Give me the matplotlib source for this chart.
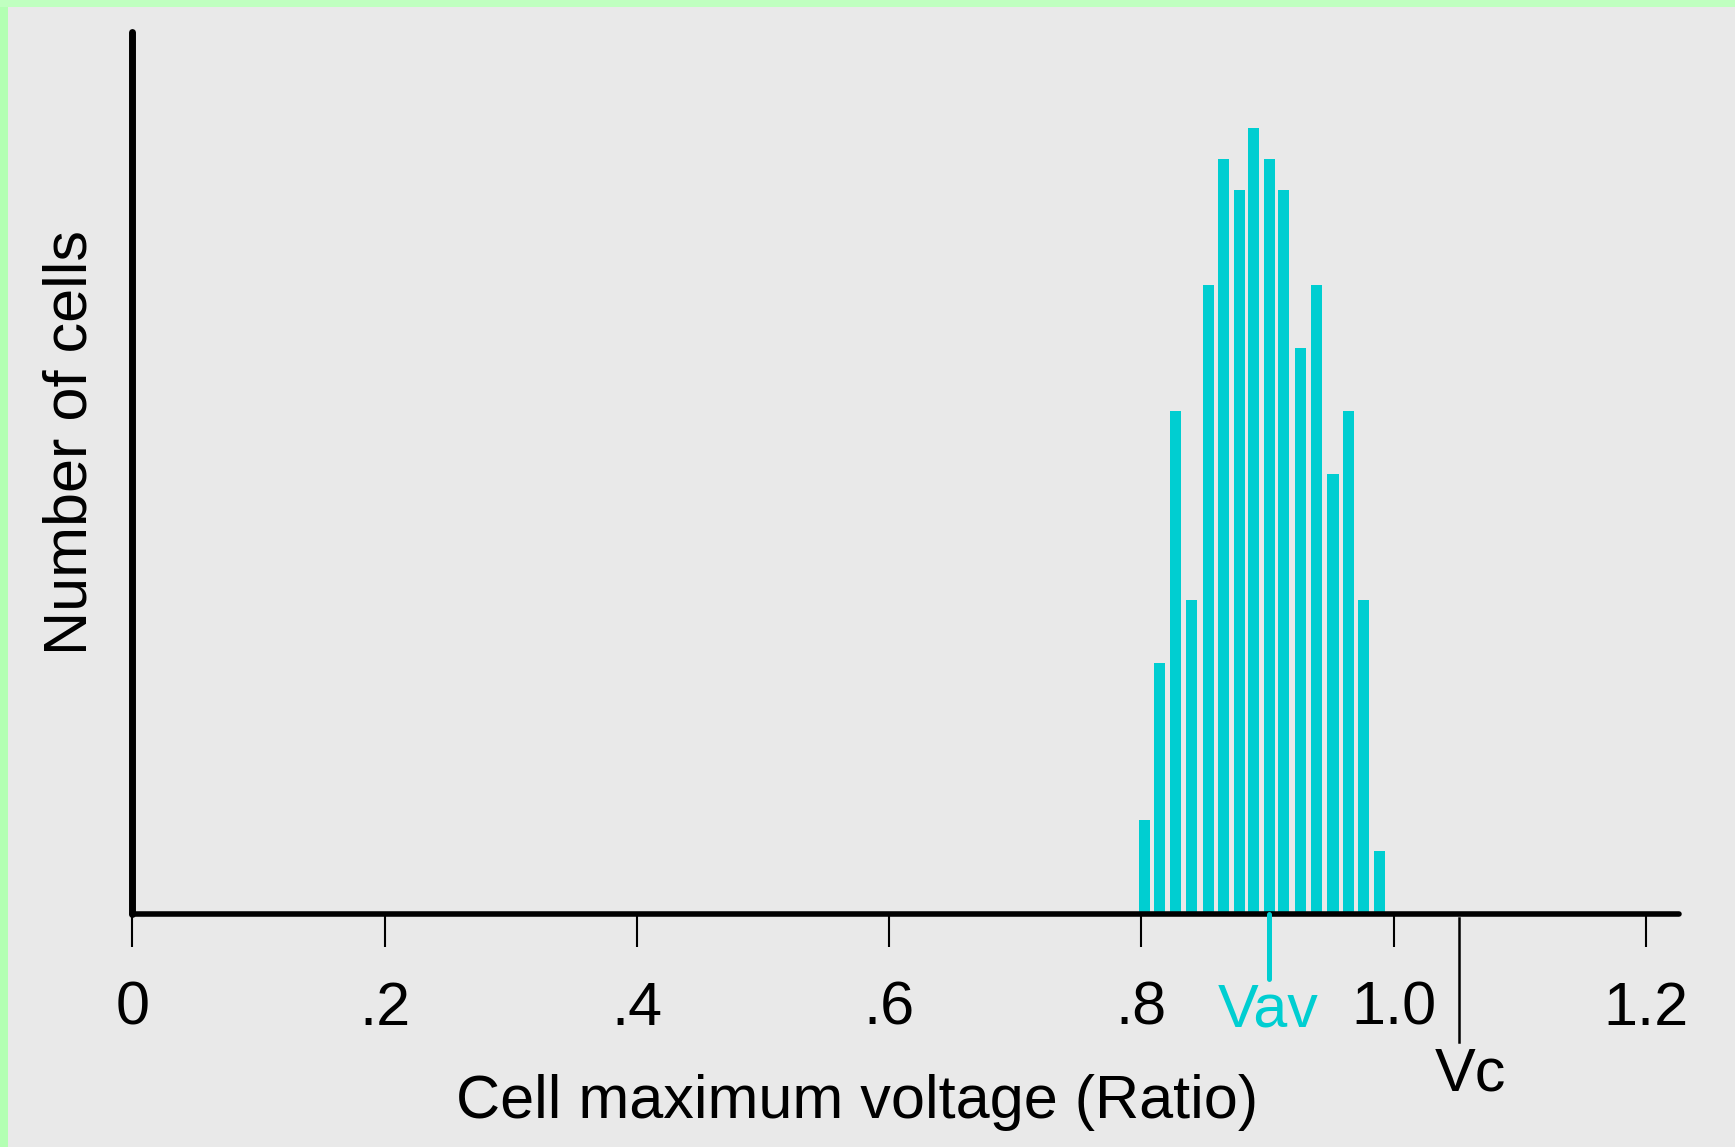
import matplotlib
matplotlib.use("Agg")
import matplotlib.pyplot as plt
from matplotlib.patches import Rectangle

plt.rcParams['font.family'] = ['Liberation Sans', 'DejaVu Sans']

# ---- data ----
bin_centers = [0.8025, 0.8145, 0.827, 0.840, 0.853, 0.8655, 0.878, 0.889,
               0.9015, 0.913, 0.926, 0.939, 0.952, 0.9645, 0.9765, 0.989]
cell_counts = [3, 8, 16, 10, 20, 24, 23, 25, 24, 23, 18, 20, 14, 16, 10, 2]
tick_values = [0, 0.2, 0.4, 0.6, 0.8, 1.0, 1.2]
tick_labels = ["0", ".2", ".4", ".6", ".8", "1.0", "1.2"]
v_av = 0.901
v_c = 1.052

BAR_COLOR = '#00CED1'
BG = '#E9E9E9'
FS = 44

fig = plt.figure(figsize=(17.35, 11.47), dpi=100, facecolor=BG)
ax = fig.add_axes([0.07625, 0.2029, 0.9014, 0.7737])
ax.set_facecolor(BG)
ax.set_xlim(0, 1.24)
ax.set_ylim(0, 28.2)

ax.bar(bin_centers, cell_counts, width=0.0088, color=BAR_COLOR, edgecolor='none', zorder=2)

for s in ['top', 'right']:
    ax.spines[s].set_visible(False)
ax.spines['left'].set_linewidth(5)
ax.spines['left'].set_bounds(0, 28.04)
ax.spines['left'].set_capstyle('round')
ax.spines['bottom'].set_linewidth(4)
ax.spines['bottom'].set_bounds(0, 1.2266)
ax.spines['bottom'].set_capstyle('round')
ax.spines['left'].set_zorder(3)
ax.spines['bottom'].set_zorder(3)

ax.set_yticks([])
ax.set_xticks(tick_values)
ax.set_xticklabels(tick_labels, fontsize=FS)
ax.tick_params(axis='x', direction='out', length=23.5, width=1.5, pad=24.5, colors='black')

# Vav marker
ax.plot([v_av, v_av], [0, -2.05], color=BAR_COLOR, lw=3.6, solid_capstyle='round',
        clip_on=False, zorder=4)
ax.text(v_av, -3.58, 'Vav', color=BAR_COLOR, fontsize=FS, ha='center', va='baseline',
        clip_on=False)

# Vc marker
ax.plot([v_c, v_c], [-0.12, -4.06], color='black', lw=1.8, clip_on=False, zorder=4)
ax.text(1.0607, -5.61, 'Vc', color='black', fontsize=FS, ha='center', va='baseline',
        clip_on=False)

# axis labels
ax.set_xlabel('Cell maximum voltage (Ratio)', fontsize=FS)
ax.xaxis.label.set_va('baseline')
ax.xaxis.set_label_coords(0.4632, -0.2294)
ax.set_ylabel('Number of cells', fontsize=FS, rotation=90, rotation_mode='anchor',
              ha='center', va='baseline')
ax.yaxis.set_label_coords(-0.0296, 0.532)

# green border strips
fig.patches.append(Rectangle((0, 0), 8 / 1735, 1, transform=fig.transFigure,
                             facecolor='#B3FFB3', edgecolor='none', zorder=0))
fig.patches.append(Rectangle((0, 1 - 7 / 1147), 1, 7 / 1147, transform=fig.transFigure,
                             facecolor='#C0FFC0', edgecolor='none', zorder=0))

fig.savefig('out.png', dpi=100, facecolor=BG)
